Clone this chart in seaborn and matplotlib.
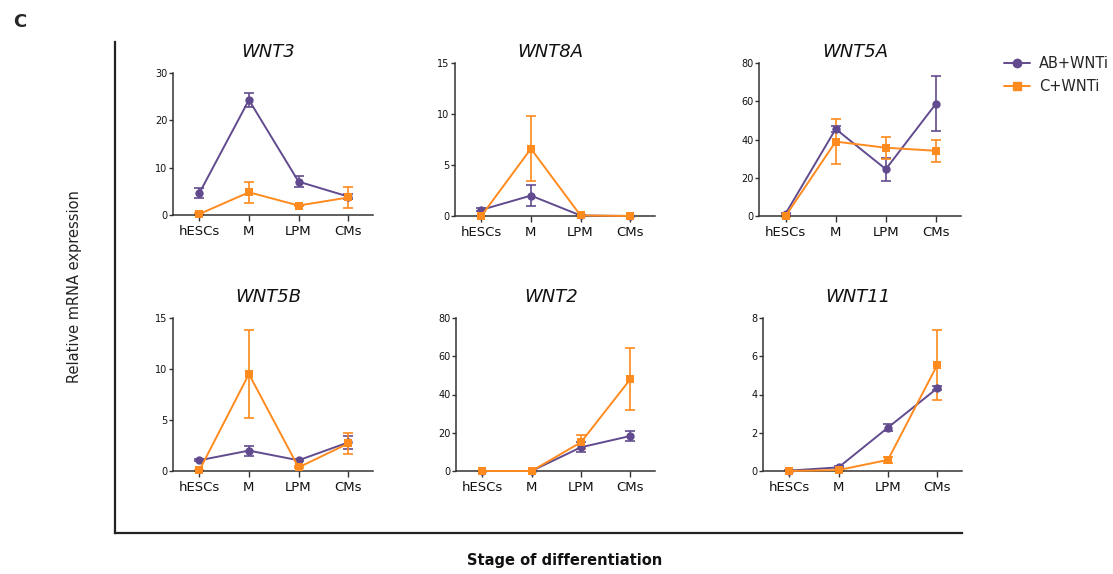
import numpy as np
import pandas as pd
import matplotlib
matplotlib.use("Agg")
import matplotlib.pyplot as plt
import seaborn as sns
from matplotlib.lines import Line2D

stages = ["hESCs", "M", "LPM", "CMs"]
genes = ["WNT3", "WNT8A", "WNT5A", "WNT5B", "WNT2", "WNT11"]
y_tops = [30, 15, 80, 15, 80, 8]
y_steps = [10, 5, 20, 5, 20, 2]

# means and error (SEM), AB+WNTi
ab_mean = {
    "WNT3": [4.6, 24.3, 7.05, 3.9],
    "WNT8A": [0.6, 2.0, 0.05, 0.0],
    "WNT5A": [1.2, 45.5, 24.5, 58.7],
    "WNT5B": [1.05, 2.0, 1.05, 2.8],
    "WNT2": [0.0, 0.0, 12.4, 18.3],
    "WNT11": [0.02, 0.19, 2.27, 4.33],
}
ab_err = {
    "WNT3": [1.05, 1.4, 1.2, 0.5],
    "WNT8A": [0.15, 1.0, 0.05, 0.0],
    "WNT5A": [0.5, 1.8, 6.0, 14.3],
    "WNT5B": [0.1, 0.5, 0.1, 0.65],
    "WNT2": [0.0, 0.0, 2.6, 2.6],
    "WNT11": [0.02, 0.05, 0.17, 0.1],
}
# C+WNTi
c_mean = {
    "WNT3": [0.2, 4.8, 2.0, 3.7],
    "WNT8A": [0.0, 6.6, 0.05, 0.0],
    "WNT5A": [0.0, 38.9, 35.7, 34.1],
    "WNT5B": [0.05, 9.5, 0.35, 2.7],
    "WNT2": [0.0, 0.0, 15.0, 48.0],
    "WNT11": [0.0, 0.05, 0.58, 5.55],
}
c_err = {
    "WNT3": [0.2, 2.2, 0.2, 2.3],
    "WNT8A": [0.0, 3.2, 0.05, 0.0],
    "WNT5A": [0.3, 11.8, 5.7, 5.7],
    "WNT5B": [0.05, 4.3, 0.1, 1.0],
    "WNT2": [0.0, 0.0, 3.6, 16.3],
    "WNT11": [0.0, 0.03, 0.17, 1.83],
}

purple = "#614b8e"
orange = "#ff8a1e"

sns.set_theme(style="white")
plt.rcParams["font.family"] = ["DejaVu Sans"]

fig = plt.figure(figsize=(11.13, 5.74), dpi=100)
W, H = 1113, 574

# outer frame with the shared axis labels
outer = fig.add_axes([115 / W, 1 - 533 / H, (962 - 115) / W, (533 - 42) / H])
outer.set_xticks([])
outer.set_yticks([])
outer.set_facecolor("none")
sns.despine(ax=outer)
for s in ["left", "bottom"]:
    outer.spines[s].set_linewidth(1.6)
    outer.spines[s].set_color("#222222")
fig.text(75 / W, 1 - 287 / H, "Relative mRNA expression", rotation=90,
         ha="center", va="center", fontsize=10.5, color="#222222")
fig.text(565 / W, 1 - 561 / H, "Stage of differentiation", ha="center",
         va="center", fontsize=10.5, fontweight="bold", color="#111111")
fig.text(20 / W, 1 - 22 / H, "C", ha="center", va="center", fontsize=13,
         fontweight="bold")

# panel boxes in pixels: left, right, top, bottom of the axes
boxes = [(173, 373, 73, 215), (455, 655, 63, 216), (759, 961, 63, 216),
         (173, 373, 318, 471), (456, 655, 318, 471), (763, 962, 318, 471)]
title_y = [52, 52, 52, 297, 297, 297]

for gene, top, step, (x0, x1, t, b), ty in zip(genes, y_tops, y_steps, boxes, title_y):
    ax = fig.add_axes([x0 / W, 1 - b / H, (x1 - x0) / W, (b - t) / H])
    ax.set_facecolor("none")
    df = pd.DataFrame({
        "stage": stages * 2,
        "value": ab_mean[gene] + c_mean[gene],
        "group": ["AB+WNTi"] * 4 + ["C+WNTi"] * 4,
    })
    sns.lineplot(data=df, x="stage", y="value", hue="group", style="group",
                 markers={"AB+WNTi": "o", "C+WNTi": "s"}, dashes=False,
                 palette={"AB+WNTi": purple, "C+WNTi": orange},
                 markersize=6, markeredgewidth=0, linewidth=1.4,
                 legend=False, ax=ax, sort=False, clip_on=False, zorder=3)
    xs = np.arange(len(stages))
    ax.errorbar(xs, ab_mean[gene], yerr=ab_err[gene], fmt="none",
                ecolor=purple, elinewidth=1.2, capsize=3.5, capthick=1.2,
                clip_on=False, zorder=2)
    ax.errorbar(xs, c_mean[gene], yerr=c_err[gene], fmt="none",
                ecolor=orange, elinewidth=1.2, capsize=3.5, capthick=1.2,
                clip_on=False, zorder=2)
    ax.set_xlim(-0.53, 3.5)
    ax.set_ylim(0, top)
    ax.set_yticks(np.arange(0, top + step / 2, step))
    ax.set_xlabel("")
    ax.set_ylabel("")
    fig.text((x0 + x1) / 2 / W - 0.004, 1 - ty / H, gene, fontstyle="italic",
             fontsize=13, ha="center", va="center", color="#111111")
    sns.despine(ax=ax)
    for s in ["left", "bottom"]:
        ax.spines[s].set_linewidth(1.1)
        ax.spines[s].set_color("#333333")
    ax.tick_params(axis="y", labelsize=7, length=3, width=1, pad=1,
                   color="#333333", left=True, labelcolor="#111111")
    ax.tick_params(axis="x", labelsize=9.5, length=4, width=1, pad=3,
                   color="#333333", bottom=True, labelcolor="#111111")

# legend
handles = [Line2D([], [], color=purple, marker="o", markersize=6, lw=1.4),
           Line2D([], [], color=orange, marker="s", markersize=6, lw=1.4)]
fig.legend(handles, ["AB+WNTi", "C+WNTi"], loc="upper left",
           bbox_to_anchor=(998 / W, 1 - 50 / H), frameon=False, fontsize=10.5,
           handlelength=1.8, handletextpad=0.6, labelspacing=0.55,
           borderaxespad=0)

fig.savefig("out.png", dpi=100)
